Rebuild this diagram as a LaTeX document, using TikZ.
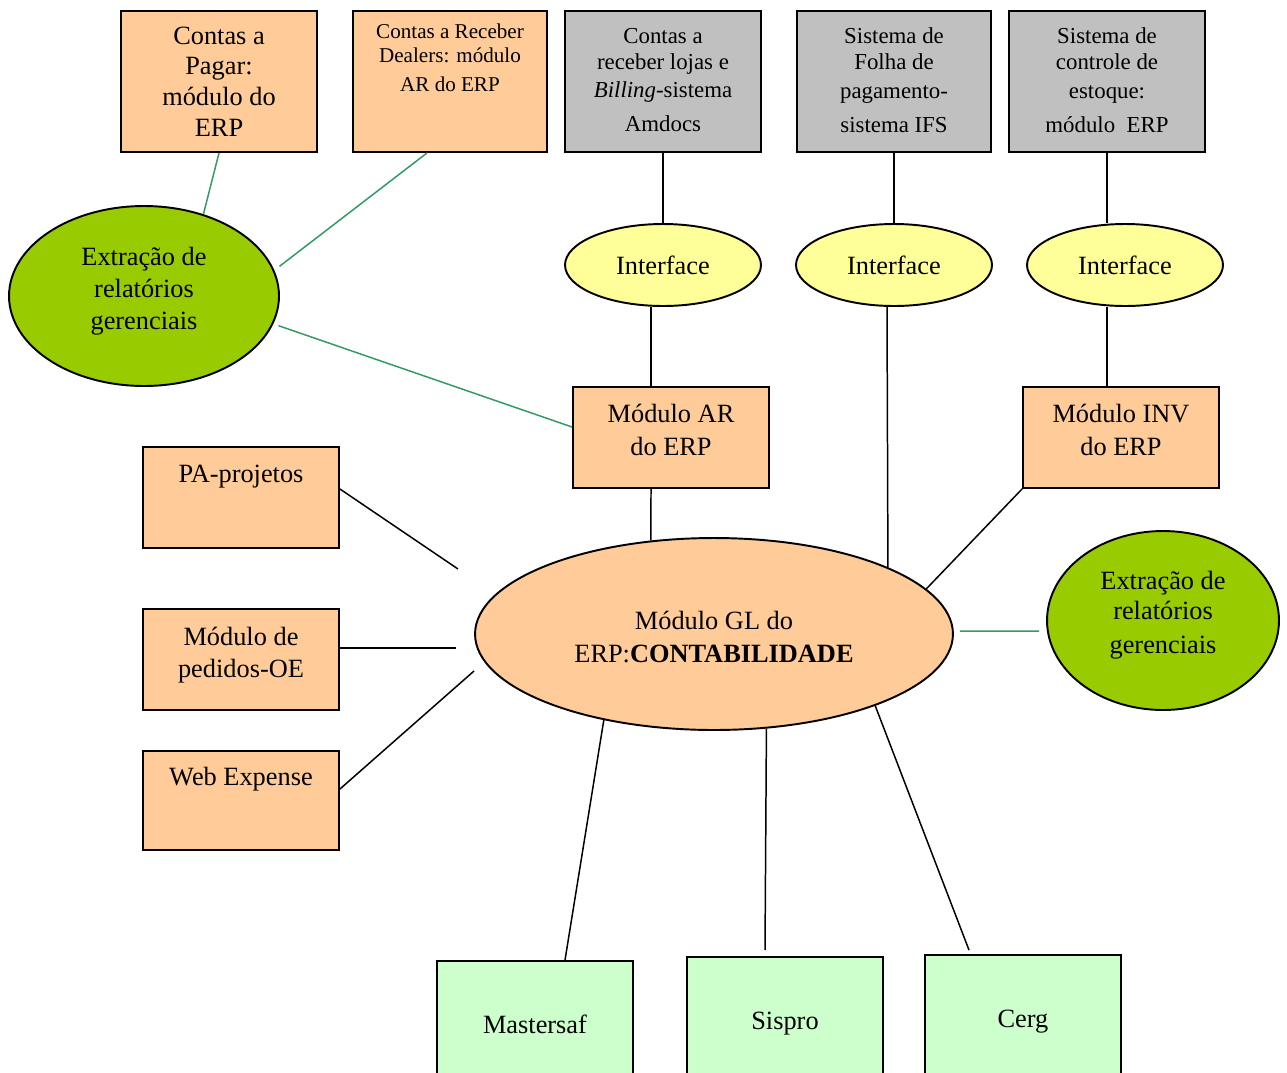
\documentclass[tikz,border=0pt]{standalone}
\usepackage{fontspec}
\setmainfont{Liberation Serif}
\usepackage{tikz}
\usetikzlibrary{calc}
\usetikzlibrary{shapes.geometric}

\definecolor{laranja}{HTML}{FFCC99}
\definecolor{cinza}{HTML}{C0C0C0}
\definecolor{amarelo}{HTML}{FFFF99}
\definecolor{verdeforte}{HTML}{99CC00}
\definecolor{verdeclaro}{HTML}{CCFFCC}
\definecolor{verdelinha}{HTML}{339966}

\begin{document}
\begin{tikzpicture}[x=0.02cm,y=-0.02cm,
    caixa/.style={rectangle,draw=black,line width=1.1pt,inner sep=0pt,align=center,
                  minimum width=3.92cm,font=\fontsize{15}{17.4}\selectfont},
    elipse/.style={ellipse,draw=black,line width=1.1pt,inner sep=0pt,align=center,
                   font=\fontsize{15}{18.1}\selectfont},
    texto/.style={align=center,font=\fontsize{15}{18.1}\selectfont},
    ligacao/.style={line width=0.85pt},
    ligverde/.style={line width=0.85pt,draw=verdelinha}]
            \clip (0,0) rectangle (1287,1072);

            % Top row of systems
            \node[caixa,fill=laranja,minimum height=2.82cm] (pagar) at (219,81.5) {Contas a\\Pagar:\\módulo do\\ERP};
            \node[caixa,fill=laranja,minimum width=3.88cm,minimum height=2.82cm] (receber) at (450,81.5) {};
            \node[align=center,font=\fontsize{12}{13.6}\selectfont] (receber-txt) at (450,58) {Contas a Receber\\Dealers: módulo\\[2.8pt]AR do ERP};
            \node[caixa,fill=cinza,minimum height=2.82cm] (amdocs) at (663,81.5) {};
            \node[texto,font=\fontsize{13}{14.7}\selectfont] (amdocs-txt) at (663,80)
                {Contas a\\receber lojas e\\[1.7pt]\textit{Billing}-sistema\\[4.6pt]Amdocs};
            \node[caixa,fill=cinza,minimum width=3.88cm,minimum height=2.82cm] (folha) at (894,81.5) {};
            \node[texto,font=\fontsize{13}{14.7}\selectfont] (folha-txt) at (894,80)
                {Sistema de\\Folha de\\[1.7pt]pagamento-\\[4.6pt]sistema IFS};
            \node[caixa,fill=cinza,minimum height=2.82cm] (estoque) at (1107,81.5) {};
            \node[texto,font=\fontsize{13}{14.7}\selectfont] (estoque-txt) at (1107,80)
                {Sistema de\\controle de\\[1.7pt]estoque:\\[4.6pt]módulo~ ERP};

            % Interfaces
            \node[elipse,fill=amarelo,minimum width=3.92cm,minimum height=1.64cm] (if1) at (663,265) {Interface};
            \node[elipse,fill=amarelo,minimum width=3.92cm,minimum height=1.64cm] (if2) at (894,265) {Interface};
            \node[elipse,fill=amarelo,minimum width=3.92cm,minimum height=1.64cm] (if3) at (1125,265) {Interface};

            % Reports
            \node[elipse,fill=verdeforte,minimum width=5.4cm,minimum height=3.6cm] (rel1) at (144,296) {};
            \node[texto] (rel1-txt) at (144,291) {Extração de\\relatórios\\gerenciais};
            \node[elipse,fill=verdeforte,minimum width=4.64cm,minimum height=3.58cm] (rel2) at (1163,620.5) {};
            \node[texto,font=\fontsize{15}{17}\selectfont] (rel2-txt) at (1163,615.5) {Extração de\\relatórios\\[2.3pt]gerenciais};

            % ERP modules
            \node[caixa,fill=laranja,minimum height=2.02cm] (ar) at (671,437.5) {};
            \node[texto,font=\fontsize{15}{19.3}\selectfont] (ar-txt) at (671,430) {Módulo AR\\do ERP};
            \node[caixa,fill=laranja,minimum height=2.02cm] (inv) at (1121,437.5) {};
            \node[texto,font=\fontsize{15}{19.3}\selectfont] (inv-txt) at (1121,430) {Módulo INV\\do ERP};
            \node[caixa,fill=laranja,minimum height=2.02cm] (pa) at (241,497.5) {};
            \node[texto] (pa-txt) at (241,477) {PA-projetos};
            \node[caixa,fill=laranja,minimum height=2.02cm] (oe) at (241,659.5) {};
            \node[texto] (oe-txt) at (241,655.5) {Módulo de\\pedidos-OE};
            \node[caixa,fill=laranja,minimum height=1.98cm] (web) at (241,800.5) {};
            \node[texto] (web-txt) at (241,779) {Web Expense};

            % Place the center node
            \node[elipse,fill=laranja,minimum width=9.56cm,minimum height=3.84cm] (gl) at (714,634) {};
            \node[texto,font=\fontsize{15}{19.3}\selectfont] (gl-txt) at (714,637) {Módulo GL do\\ERP:\textbf{CONTABILIDADE}};

            % Bottom systems
            \node[caixa,fill=verdeclaro,minimum height=2.52cm] (ms) at (535,1024) {Mastersaf};
            \node[caixa,fill=verdeclaro,minimum height=2.68cm] (sp) at (785,1024) {Sispro};
            \node[caixa,fill=verdeclaro,minimum height=2.68cm] (cg) at (1023,1022) {Cerg};

            \coordinate (pa-fim) at (458,569);
            \coordinate (oe-fim) at (456,648);
            \coordinate (web-fim) at (474,671);

            % The lines!
            \draw[ligverde] (pagar.south) -- (rel1.54);
            \draw[ligverde] ($(receber.south)+(-23,0)$) -- ($(rel1.13)+(7,0)$);
            \draw[ligverde] ($(rel1.-13)+(6,0)$) -- ($(ar.west)+(0,-10.5)$);
            \draw[ligverde] ($(gl.east)+(6,-3)$) -- ($(rel2.west)+(-7,10.5)$);

            \draw[ligacao] (amdocs.south) -- (if1.north);
            \draw[ligacao] (folha.south) -- (if2.north);
            \draw[ligacao] (estoque.south) -- (estoque.south |- if3.north);
            \draw[ligacao] ($(if1.south)+(-12,0)$) -- ($(ar.north)+(-20,0)$);
            \draw[ligacao] ($(if2.south)+(-7,0)$) -- (gl.21);
            \draw[ligacao] ($(if3.south)+(-18,0)$) -- ($(inv.north)+(-14,0)$);
            \draw[ligacao] ($(ar.south)+(-20,0)$) -- (gl.124);
            \draw[ligacao] (inv.south west) -- (gl.12);

            \draw[ligacao] ($(pa.east)+(0,-8.5)$) -- (pa-fim);
            \draw[ligacao] ($(oe.east)+(0,-11.5)$) -- (oe-fim);
            \draw[ligacao] ($(web.east)+(0,-11.5)$) -- (web-fim);

            \draw[ligacao] (gl.218) -- ($(ms.north)+(30,0)$);
            \draw[ligacao] (gl.-61) -- ($(sp.north)+(-20,-6)$);
            \draw[ligacao] (gl.-24) -- ($(cg.north)+(-54,-4)$);
        \end{tikzpicture}
\end{document}
